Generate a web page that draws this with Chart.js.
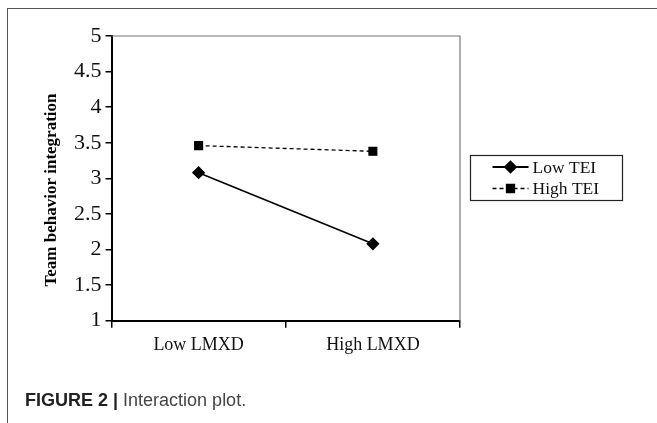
<!DOCTYPE html>
<html>
<head>
<meta charset="utf-8">
<script src="https://cdn.jsdelivr.net/npm/chart.js@4"></script>
<style>
  html, body { margin: 0; padding: 0; background: #fff; }
  #wrap { position: relative; width: 657px; height: 423px; overflow: hidden; }
  #frame { position: absolute; left: 7px; top: 8px; width: 700px; height: 500px;
           border-top: 1.5px solid #555; border-left: 1.5px solid #555; }
  #c { position: absolute; left: 0; top: 0; }
  #cap { position: absolute; left: 25px; top: 390px; font-family: "Liberation Sans", Arial, sans-serif;
         font-size: 18px; color: #444; white-space: nowrap; }
  #cap b { color: #222; }
</style>
</head>
<body>
<div id="wrap">
  <div id="frame"></div>
  <canvas id="c" width="657" height="423"></canvas>
  <div id="cap"><b>FIGURE 2 |</b> Interaction plot.</div>
</div>
<script>
const categories = ["Low LMXD", "High LMXD"];
const lowTEI = [3.08, 2.08];
const highTEI = [3.46, 3.38];
const yTicks = [1, 1.5, 2, 2.5, 3, 3.5, 4, 4.5, 5];
const seriesNames = ["Low TEI", "High TEI"];
const yTitle = "Team behavior integration";

const serif = '"Liberation Serif", "Times New Roman", serif';

const framePlugin = {
  id: 'frameAndLegend',
  beforeDatasetsDraw(chart) {
    const { ctx, chartArea: a } = chart;
    ctx.save();
    ctx.strokeStyle = '#777';
    ctx.lineWidth = 1.2;
    ctx.beginPath();
    ctx.moveTo(a.left, a.top);
    ctx.lineTo(a.right, a.top);
    ctx.lineTo(a.right, a.bottom);
    ctx.stroke();
    ctx.restore();
  },
  afterDraw(chart) {
    const { ctx } = chart;
    // y-axis title
    const ys = chart.scales.y;
    ctx.save();
    ctx.translate(52, 190);
    ctx.rotate(-Math.PI / 2);
    ctx.font = 'bold 17px ' + serif;
    ctx.fillStyle = '#000';
    ctx.textAlign = 'center';
    ctx.textBaseline = 'middle';
    ctx.fillText(ys.options.title.text, 0, 0);
    ctx.restore();

    // legend
    const bx = 470.5, by = 155.5, bw = 152, bh = 45;
    ctx.save();
    ctx.strokeStyle = '#222';
    ctx.lineWidth = 1.2;
    ctx.strokeRect(bx, by, bw, bh);
    chart.data.datasets.forEach((ds, i) => {
      const cy = by + 11.5 + i * 21.5;
      const x0 = bx + 22, x1 = bx + 58;
      ctx.strokeStyle = '#000';
      ctx.lineWidth = i === 0 ? 1.8 : 1.5;
      ctx.setLineDash(ds.borderDash || []);
      ctx.beginPath();
      ctx.moveTo(x0, cy);
      ctx.lineTo(x1, cy);
      ctx.stroke();
      ctx.setLineDash([]);
      ctx.fillStyle = '#000';
      Chart.helpers.drawPoint(ctx, {
        pointStyle: ds.pointStyle, radius: ds.pointRadius, rotation: 0, borderWidth: 1
      }, (x0 + x1) / 2, cy);
      ctx.font = '17.5px ' + serif;
      ctx.fillStyle = '#111';
      ctx.textBaseline = 'middle';
      ctx.textAlign = 'left';
      ctx.fillText(ds.label, x1 + 4, cy + 1);
    });
    ctx.restore();
  }
};

new Chart(document.getElementById('c'), {
  type: 'line',
  data: {
    labels: categories,
    datasets: [
      { label: seriesNames[0], data: lowTEI, borderColor: '#000', backgroundColor: '#000',
        borderWidth: 1.6, pointStyle: 'rectRot', pointRadius: 5.5, pointHoverRadius: 5.5,
        pointBackgroundColor: '#000', pointBorderColor: '#000', tension: 0 },
      { label: seriesNames[1], data: highTEI, borderColor: '#000', backgroundColor: '#000',
        borderWidth: 1.3, borderDash: [4, 3], pointStyle: 'rect', pointRadius: 5.5, pointHoverRadius: 5.5,
        pointBackgroundColor: '#000', pointBorderColor: '#000', tension: 0 }
    ]
  },
  options: {
    responsive: false,
    animation: false,
    events: [],
    layout: { padding: { left: 40, right: 197, top: 36, bottom: 0 } },
    plugins: { legend: { display: false }, tooltip: { enabled: false } },
    scales: {
      x: {
        type: 'category',
        offset: true,
        grid: { offset: true, drawOnChartArea: false, drawTicks: true, tickLength: 7, color: '#000', lineWidth: 1.5 },
        border: { display: true, color: '#000', width: 2 },
        ticks: { color: '#111', font: { family: serif, size: 18 }, padding: 7 },
        afterFit(s) { s.height = 102.3; }
      },
      y: {
        min: 1, max: 5,
        afterBuildTicks(s) { s.ticks = yTicks.map(v => ({ value: v })); },
        grid: { drawOnChartArea: false, drawTicks: true, tickLength: 6, color: '#000', lineWidth: 1.5 },
        border: { display: true, color: '#000', width: 2 },
        ticks: { color: '#111', font: { family: serif, size: 22 }, padding: 4,
                 callback: v => String(v) },
        title: { display: false, text: yTitle },
        afterFit(s) { s.width = 71.5; }
      }
    }
  },
  plugins: [framePlugin]
});
</script>
</body>
</html>
